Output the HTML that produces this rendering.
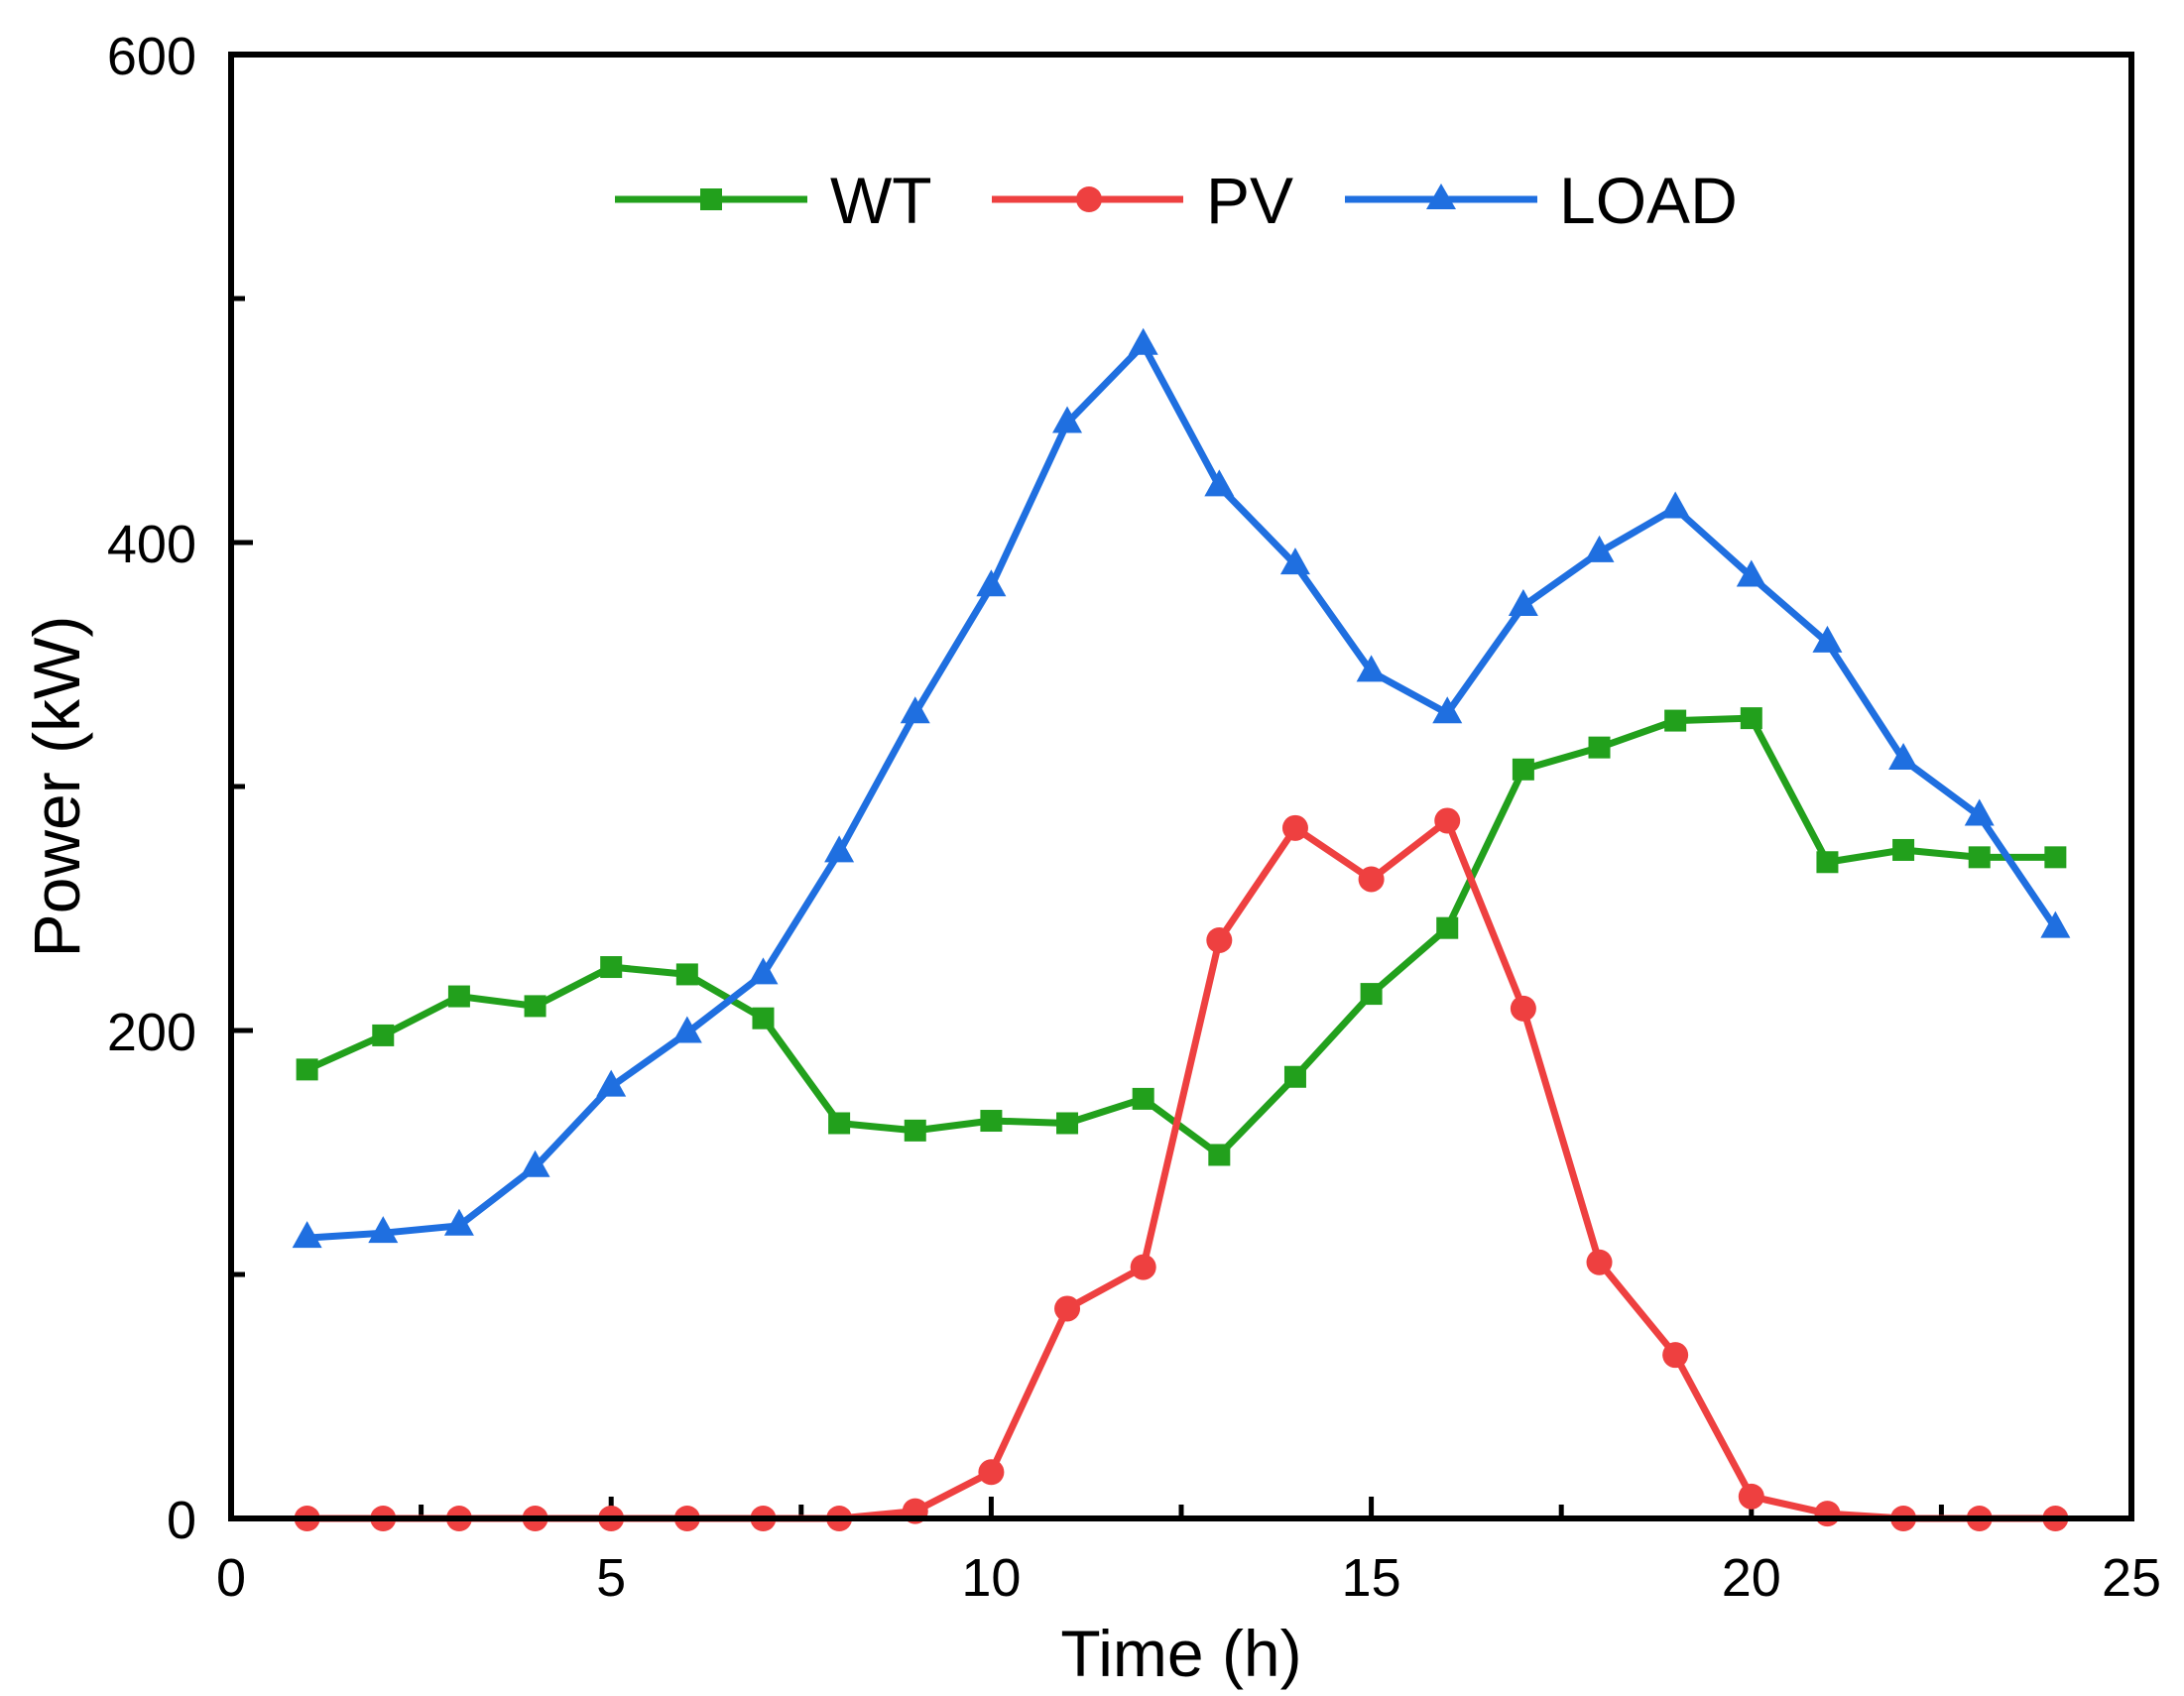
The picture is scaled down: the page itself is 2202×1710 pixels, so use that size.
<!DOCTYPE html>
<html><head><meta charset="utf-8"><style>
html,body{margin:0;padding:0;background:#fff;}
svg{display:block;font-family:"Liberation Sans","DejaVu Sans",sans-serif;}
</style></head><body>
<svg id="chart" width="2202" height="1710" viewBox="0 0 2202 1710" xmlns="http://www.w3.org/2000/svg">
<g id="grid"></g>
<g id="series"></g>
<rect x="233" y="55" width="1916" height="1476" fill="none" stroke="#000" stroke-width="6"/>
<text x="1191" y="1690" font-size="66" text-anchor="middle">Time (h)</text>
<text x="0" y="0" font-size="66" text-anchor="middle" transform="translate(80,793) rotate(-90)">Power (kW)</text>
<g>
  <g>
    <line x1="620" y1="201" x2="814" y2="201" stroke="#22a01c" stroke-width="7"/>
    <rect x="706" y="190" width="22" height="22" fill="#22a01c"/>
    <text x="837" y="225" font-size="66">WT</text>
  </g>
  <g>
    <line x1="1000" y1="201" x2="1193" y2="201" stroke="#ee4040" stroke-width="7"/>
    <circle cx="1098" cy="201" r="13" fill="#ee4040"/>
    <text x="1216" y="225" font-size="66">PV</text>
  </g>
  <g>
    <line x1="1356" y1="201" x2="1550" y2="201" stroke="#1f6fe0" stroke-width="7"/>
    <polygon points="1453,185 1468,211 1438,211" fill="#1f6fe0"/>
    <text x="1572" y="225" font-size="66">LOAD</text>
  </g>
</g>
</svg>
<script>
const hours = [1,2,3,4,5,6,7,8,9,10,11,12,13,14,15,16,17,18,19,20,21,22,23,24];
const wtValues = [184,198,214,210,226,223,205,162,159,163,162,172,149,181,215,242,307,316,327,328,269,274,271,271];
const pvValues = [0,0,0,0,0,0,0,0,3,19,86,103,237,283,262,286,209,105,67,9,2,0,0,0];
const loadValues = [115,117,120,144,177,199,223,273,330,382,449,481,423,391,347,330,374,396,414,386,359,311,288,242];
const xTickLabels = [0,5,10,15,20,25];
const yTickLabels = [0,200,400,600];
const xMinorTicks = [2.5,7.5,12.5,17.5,22.5];
const yMinorTicks = [100,300,500];

const L=233,R=2149,T=55,B=1531;
const xS = v => L + (v-0)/25*(R-L);
const yS = v => B - (v-0)/600*(B-T);
const NS="http://www.w3.org/2000/svg";
function mk(tag, attrs, parent){const e=document.createElementNS(NS,tag);for(const k in attrs)e.setAttribute(k,attrs[k]);parent.appendChild(e);return e;}
const grid=document.getElementById('grid');
const ser=document.getElementById('series');

xTickLabels.forEach(v=>{
  const t=mk('line',{x1:xS(v),x2:xS(v),y1:B,y2:B-22,stroke:'#000','stroke-width':5},grid);
  
  
  const l=mk('text',{x:xS(v),y:1609,'font-size':54,'text-anchor':'middle'},grid);
  l.textContent=v;
  
  
});
xMinorTicks.forEach(v=>{
  const t=mk('line',{x1:xS(v),x2:xS(v),y1:B,y2:B-14,stroke:'#000','stroke-width':5},grid);
  
  
});
yTickLabels.forEach(v=>{
  const t=mk('line',{x1:L,x2:L+22,y1:yS(v),y2:yS(v),stroke:'#000','stroke-width':5},grid);
  
  
  const l=mk('text',{x:198,y:yS(v)+20,'font-size':54,'text-anchor':'end'},grid);
  l.textContent=v;
  
  
});
yMinorTicks.forEach(v=>{
  const t=mk('line',{x1:L,x2:L+14,y1:yS(v),y2:yS(v),stroke:'#000','stroke-width':5},grid);
  
  
});

function drawSeries(vals,color,shape,name){
  const g=mk('g',{},ser);
  
  
  const pts=hours.map((h,i)=>xS(h)+','+yS(vals[i])).join(' ');
  const pl=mk('polyline',{points:pts,fill:'none',stroke:color,'stroke-width':7,'stroke-linejoin':'round'},g);
  
  
  hours.forEach((h,i)=>{
    const x=xS(h),y=yS(vals[i]);let m;
    if(shape==='sq') m=mk('rect',{x:x-11,y:y-11,width:22,height:22,fill:color},g);
    else if(shape==='c') m=mk('circle',{cx:x,cy:y,r:13,fill:color},g);
    else m=mk('polygon',{points:`${x},${y-17} ${x+15},${y+10} ${x-15},${y+10}`,fill:color},g);
    
    
  });
}
drawSeries(wtValues,'#22a01c','sq','wt');
drawSeries(pvValues,'#ee4040','c','pv');
drawSeries(loadValues,'#1f6fe0','t','load');
</script>
</body></html>
